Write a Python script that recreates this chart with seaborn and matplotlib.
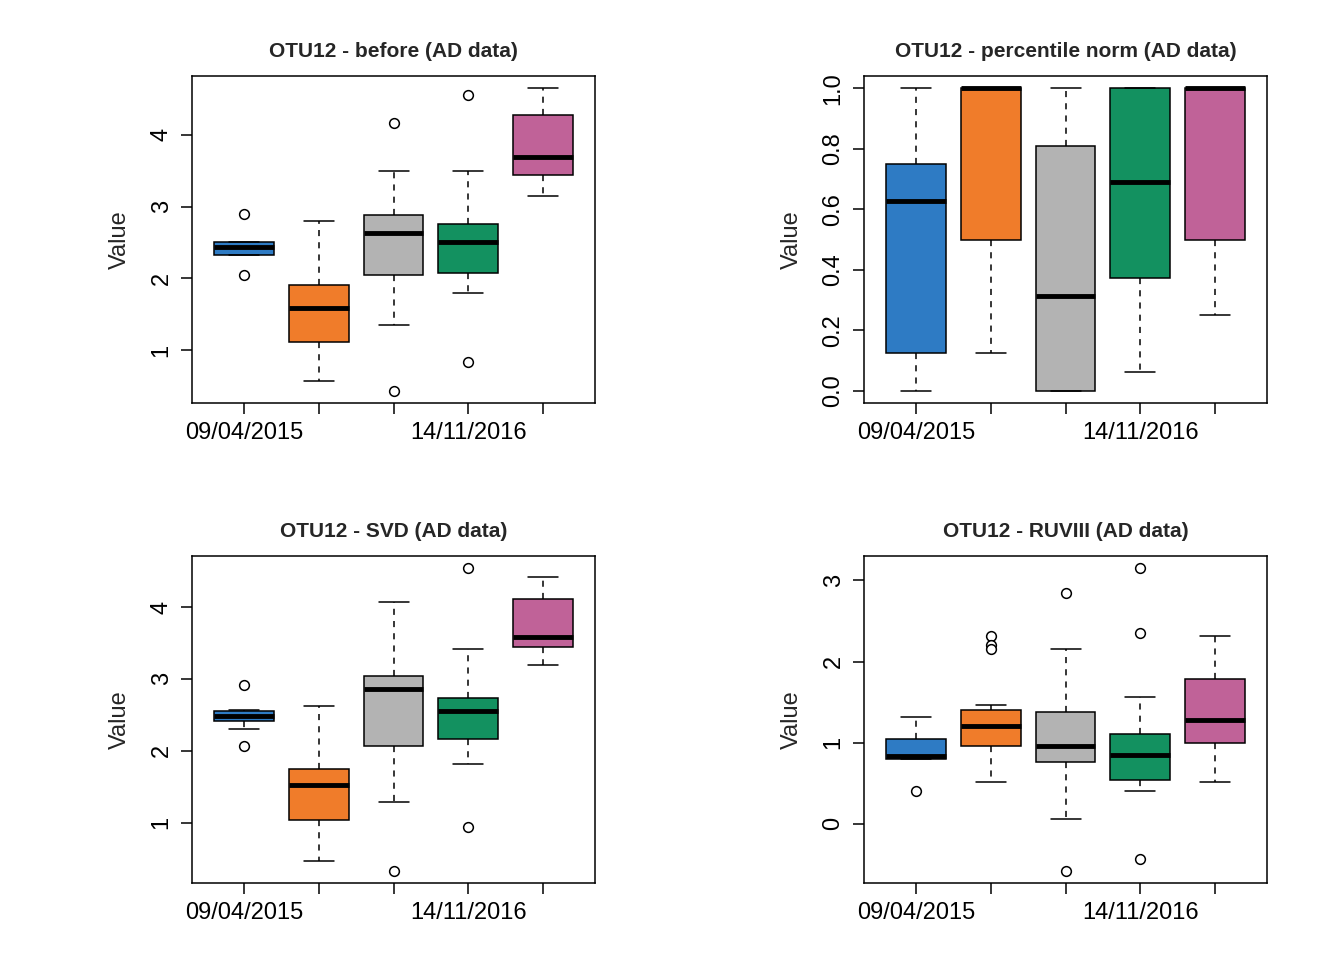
import matplotlib
matplotlib.use("Agg")
import matplotlib.pyplot as plt
import seaborn as sns
import pandas as pd

# sampling dates (only the 1st and 4th labels are drawn, as in the reference)
dates = ["09/04/2015", "d2", "d3", "14/11/2016", "d5"]
palette = ["#2E7BC4", "#F07C2A", "#B3B3B3", "#139160", "#C06298"]

# per-box summaries: (whisker low, q1, median, q3, whisker high, outliers)
before_stats = [
    (2.04, 2.32, 2.43, 2.50, 2.51, [2.89]),
    (0.57, 1.11, 1.59, 1.90, 2.80, []),
    (1.35, 2.05, 2.63, 2.88, 3.50, [4.17, 0.43]),
    (1.79, 2.08, 2.50, 2.75, 3.50, [4.56, 0.83]),
    (3.15, 3.44, 3.69, 4.28, 4.65, []),
]
percentile_stats = [
    (0.0, 0.126, 0.626, 0.75, 1.0, []),
    (0.126, 0.5, 1.0, 1.0, 1.0, []),
    (0.0, 0.0, 0.315, 0.81, 1.0, []),
    (0.063, 0.374, 0.69, 1.0, 1.0, []),
    (0.25, 0.5, 1.0, 1.0, 1.0, []),
]
svd_stats = [
    (2.31, 2.41, 2.48, 2.56, 2.57, [2.91, 2.07]),
    (0.46, 1.03, 1.52, 1.74, 2.62, []),
    (1.29, 2.07, 2.86, 3.04, 4.07, [0.33]),
    (1.81, 2.16, 2.56, 2.74, 3.41, [4.54, 0.94]),
    (3.20, 3.44, 3.59, 4.11, 4.42, []),
]
ruviii_stats = [
    (0.41, 0.80, 0.83, 1.05, 1.32, []),
    (0.51, 0.96, 1.20, 1.40, 1.46, [2.32, 2.20, 2.15]),
    (0.06, 0.76, 0.96, 1.38, 2.15, [2.85, -0.58]),
    (0.40, 0.54, 0.85, 1.11, 1.56, [3.15, 2.35, -0.43]),
    (0.51, 0.99, 1.28, 1.79, 2.32, []),
]

panels = [
    ("OTU12 - before (AD data)", before_stats, (0.26, 4.82), [1, 2, 3, 4]),
    ("OTU12 - percentile norm (AD data)", percentile_stats, (-0.04, 1.04),
     [0.0, 0.2, 0.4, 0.6, 0.8, 1.0]),
    ("OTU12 - SVD (AD data)", svd_stats, (0.16, 4.71), [1, 2, 3, 4]),
    ("OTU12 - RUVIII (AD data)", ruviii_stats, (-0.73, 3.30), [0, 1, 2, 3]),
]
positions = [
    [0.1429, 0.5802, 0.2999, 0.3406],
    [0.6429, 0.5802, 0.2999, 0.3406],
    [0.1429, 0.0802, 0.2999, 0.3406],
    [0.6429, 0.0802, 0.2999, 0.3406],
]


def to_frame(stats):
    """Expand box summaries into observations that reproduce them."""
    rows = []
    for date, (lo, q1, med, q3, hi, out) in zip(dates, stats):
        vals = [lo] + [q1] * 4 + [med] * 4 + [q3] * 4 + [hi] + list(out)
        rows += [(date, v) for v in vals]
    return pd.DataFrame(rows, columns=["date", "value"])


sns.set_style("white")
plt.rcParams["font.family"] = ["Liberation Sans", "DejaVu Sans"]

fig = plt.figure(figsize=(13.44, 9.6), dpi=100)

for (title, stats, ylim, yticks), pos in zip(panels, positions):
    ax = fig.add_axes(pos)
    df = to_frame(stats)
    sns.boxplot(
        data=df, x="date", y="value", hue="date", order=dates,
        palette=palette, saturation=1, width=0.8, linecolor="black",
        linewidth=1.1, legend=False, ax=ax,
        whiskerprops=dict(linestyle=(0, (4, 4))),
        medianprops=dict(linewidth=3.5, color="black"),
        flierprops=dict(marker="o", markersize=7, markerfacecolor="white",
                        markeredgecolor="black", markeredgewidth=1.1),
    )
    ax.set_xlim(-0.7, 4.7)
    ax.set_ylim(*ylim)
    ax.set_yticks(yticks)
    ax.set_yticklabels([f"{t:g}" if isinstance(t, int) else f"{t:.1f}" for t in yticks],
                       rotation=90, va="center")
    ax.set_xticks(range(len(dates)))
    ax.set_xticklabels([d if i in (0, 3) else "" for i, d in enumerate(dates)])
    ax.tick_params(axis="both", direction="out", length=8, width=1.1,
                   labelsize=17, colors="black", bottom=True, left=True, pad=6)
    ax.set_xlabel("")
    ax.set_ylabel("Value", fontsize=17, labelpad=14)
    ax.set_title(title, fontsize=15, fontweight="bold", pad=14)
    for s in ax.spines.values():
        s.set_visible(True)
        s.set_color("black")
        s.set_linewidth(1.1)

fig.savefig("out.png", dpi=100, facecolor="white")
